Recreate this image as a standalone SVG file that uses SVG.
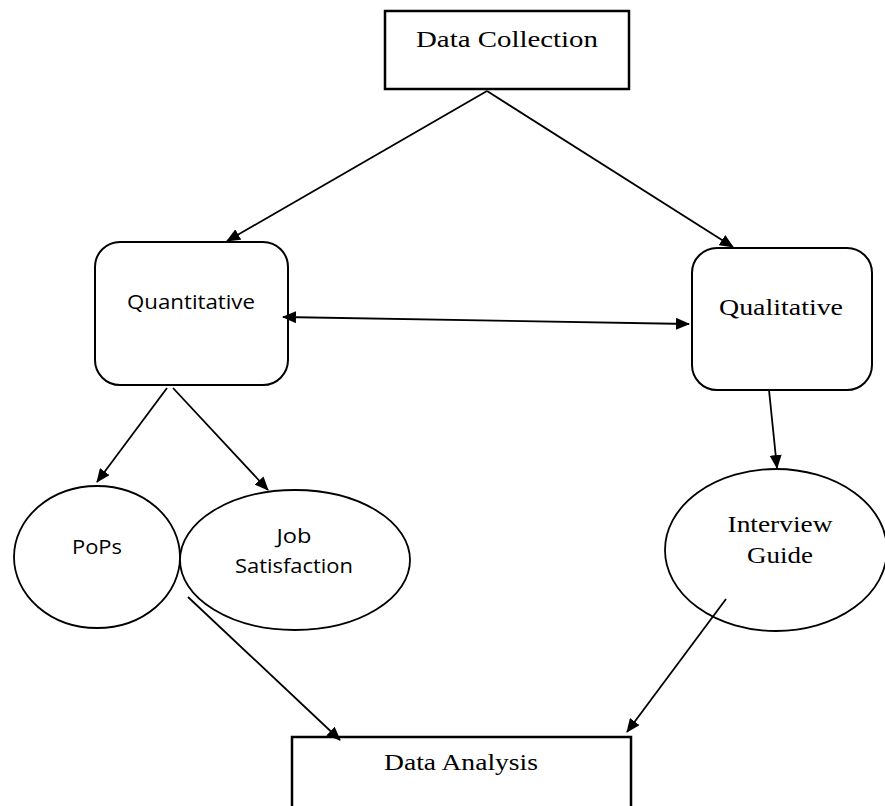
<svg xmlns="http://www.w3.org/2000/svg" width="885" height="806" viewBox="0 0 885 806">
<defs>
<marker id="ah" markerUnits="userSpaceOnUse" markerWidth="14" markerHeight="12" refX="13" refY="6" orient="auto-start-reverse">
<path d="M0,0 L14,6 L0,12 Z" fill="#000"/>
</marker>
</defs>
<style>
.box{fill:#fff;stroke:#000;stroke-width:2.5}
.rbox{fill:#fff;stroke:#000;stroke-width:2}
.ell{fill:#fff;stroke:#000;stroke-width:1.8}
.serif{font-family:"Liberation Serif","Times New Roman",serif;font-size:23.5px;fill:#000}
.sans{font-family:"Open Sans","Noto Sans",sans-serif;font-size:19.5px;fill:#000}
.conn{stroke:#000;stroke-width:1.8;fill:none}
</style>
<rect width="885" height="806" fill="#fff"/>
<g id="data-collection">
<rect class="box" x="385" y="11" width="244" height="78"/>
<text class="serif" x="507" y="47" text-anchor="middle" textLength="182" lengthAdjust="spacingAndGlyphs">Data Collection</text>
</g>
<g id="quantitative">
<rect class="rbox" x="95" y="242" width="193" height="143" rx="25" ry="25"/>
<text class="sans" x="191" y="309" text-anchor="middle" textLength="128" lengthAdjust="spacingAndGlyphs">Quantitative</text>
</g>
<g id="qualitative">
<rect class="rbox" x="692" y="248" width="180" height="142" rx="25" ry="25"/>
<text class="serif" x="781" y="315" text-anchor="middle" textLength="124" lengthAdjust="spacingAndGlyphs">Qualitative</text>
</g>
<g id="pops">
<ellipse class="ell" cx="97" cy="557" rx="83" ry="71"/>
<text class="sans" x="97" y="554" text-anchor="middle" textLength="50" lengthAdjust="spacingAndGlyphs">PoPs</text>
</g>
<g id="job-satisfaction">
<ellipse class="ell" cx="295" cy="560" rx="115" ry="70"/>
<text class="sans" x="294" y="543" text-anchor="middle" textLength="35" lengthAdjust="spacingAndGlyphs">Job</text>
<text class="sans" x="294" y="573" text-anchor="middle" textLength="118" lengthAdjust="spacingAndGlyphs">Satisfaction</text>
</g>
<g id="interview-guide">
<ellipse class="ell" cx="776" cy="550" rx="111" ry="81"/>
<text class="serif" x="780" y="532" text-anchor="middle" textLength="105" lengthAdjust="spacingAndGlyphs">Interview</text>
<text class="serif" x="780" y="563" text-anchor="middle" textLength="66" lengthAdjust="spacingAndGlyphs">Guide</text>
</g>
<g id="data-analysis">
<rect class="box" x="292" y="737" width="339" height="80"/>
<text class="serif" x="461" y="770" text-anchor="middle" textLength="154" lengthAdjust="spacingAndGlyphs">Data Analysis</text>
</g>
<g id="connectors">
<line class="conn" x1="487" y1="91" x2="227" y2="241" marker-end="url(#ah)"/>
<line class="conn" x1="487" y1="91" x2="733" y2="247" marker-end="url(#ah)"/>
<line class="conn" x1="283" y1="317" x2="689" y2="324" marker-start="url(#ah)" marker-end="url(#ah)"/>
<line class="conn" x1="167" y1="388" x2="97" y2="482" marker-end="url(#ah)"/>
<line class="conn" x1="173" y1="388" x2="268" y2="490" marker-end="url(#ah)"/>
<line class="conn" x1="769" y1="390" x2="777" y2="468" marker-end="url(#ah)"/>
<line class="conn" x1="188" y1="597" x2="340" y2="740" marker-end="url(#ah)"/>
<line class="conn" x1="726" y1="599" x2="627" y2="732" marker-end="url(#ah)"/>
</g>
</svg>
